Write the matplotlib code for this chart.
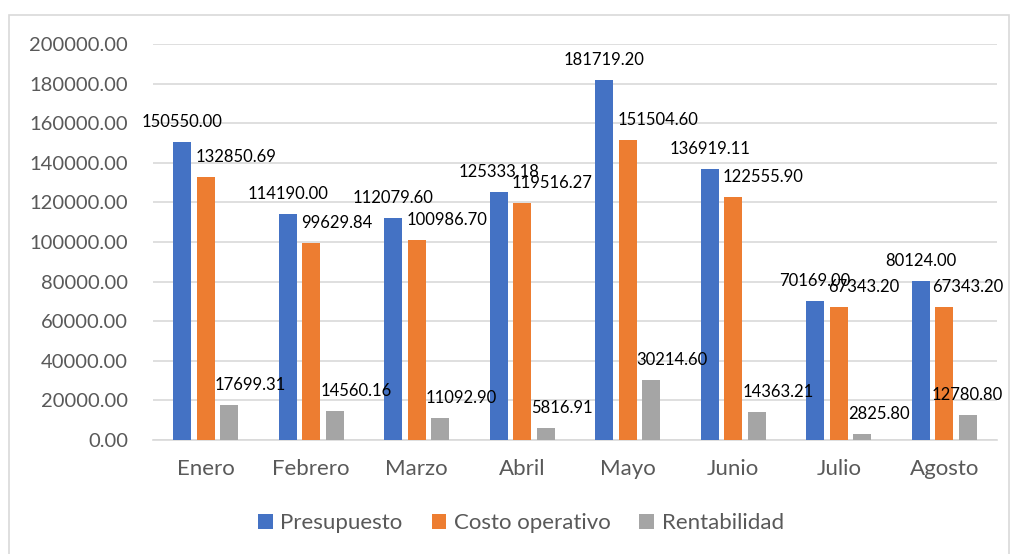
import numpy as np
import matplotlib
matplotlib.use("Agg")
import matplotlib.pyplot as plt
from matplotlib.patches import Rectangle

plt.rcParams['font.family'] = ['Lato', 'DejaVu Sans']

meses = ['Enero', 'Febrero', 'Marzo', 'Abril', 'Mayo', 'Junio', 'Julio', 'Agosto']
presupuesto = [150550.00, 114190.00, 112079.60, 125333.18, 181719.20, 136919.11, 70169.00, 80124.00]
costo = [132850.69, 99629.84, 100986.70, 119516.27, 151504.60, 122555.90, 67343.20, 67343.20]
rentabilidad = [17699.31, 14560.16, 11092.90, 5816.91, 30214.60, 14363.21, 2825.80, 12780.80]

series = [
    ('Presupuesto', presupuesto, '#4472c4'),
    ('Costo operativo', costo, '#ed7d31'),
    ('Rentabilidad', rentabilidad, '#a5a5a5'),
]

fig = plt.figure(figsize=(10.16, 5.54), dpi=100)
fig.patches.append(Rectangle((9 / 1016, -0.01), 1000 / 1016, 1 - 15 / 554 + 0.01,
                             transform=fig.transFigure, fill=False,
                             edgecolor='#d9d9d9', linewidth=1.2))
ax = fig.add_axes([153 / 1016, 1 - 440 / 554, (997 - 153) / 1016, (440 - 44) / 554])

x = np.arange(len(meses))
width = 0.17
step = 0.223
# label placement per series: (ha, x offset in points)
label_pos = [('center', 0), ('left', -7.5), ('left', -10.5)]

labels = []
for i, (name, vals, color) in enumerate(series):
    xs = x + (i - 1) * step
    ax.bar(xs, vals, width=width, color=color, label=name, zorder=3)
    ha, dx = label_pos[i]
    for xi, v in zip(xs, vals):
        t = ax.annotate(f'{v:.2f}', (xi, v), xytext=(dx, 14.4), textcoords='offset points',
                        ha=ha, va='center', fontsize=12, color='black', zorder=4)
        labels.append(t)

ax.set_ylim(0, 200000)
ax.set_xlim(-0.5, len(meses) - 0.5)
ax.set_yticks(np.arange(0, 200001, 20000))
ax.set_yticklabels([f'{t:.2f}' for t in np.arange(0, 200001, 20000)])
ax.set_xticks(x)
ax.set_xticklabels(meses)
ax.tick_params(axis='both', length=0, colors='#595959')
ax.tick_params(axis='y', labelsize=14.5, pad=18)
ax.tick_params(axis='x', labelsize=16, pad=14)
ax.grid(axis='y', color='#d9d9d9', linewidth=1.2, zorder=0)
for s in ['top', 'right', 'left']:
    ax.spines[s].set_visible(False)
ax.spines['bottom'].set_color('#d9d9d9')
ax.spines['bottom'].set_linewidth(1.2)

leg = ax.legend(loc='center', bbox_to_anchor=(0.436, -0.21), ncol=3, frameon=False,
                fontsize=16, handlelength=0.65, handleheight=0.65, handletextpad=0.35,
                columnspacing=1.3)
for t in leg.get_texts():
    t.set_color('#595959')

# keep labels inside the chart like Excel does
fig.canvas.draw()
r = fig.canvas.get_renderer()
limit = 1003
for t in labels:
    bb = t.get_window_extent(r)
    if bb.x1 > limit:
        ox, oy = t.xyann
        t.xyann = (ox - (bb.x1 - limit) * 72 / fig.dpi, oy)

fig.savefig('out.png', dpi=100)
